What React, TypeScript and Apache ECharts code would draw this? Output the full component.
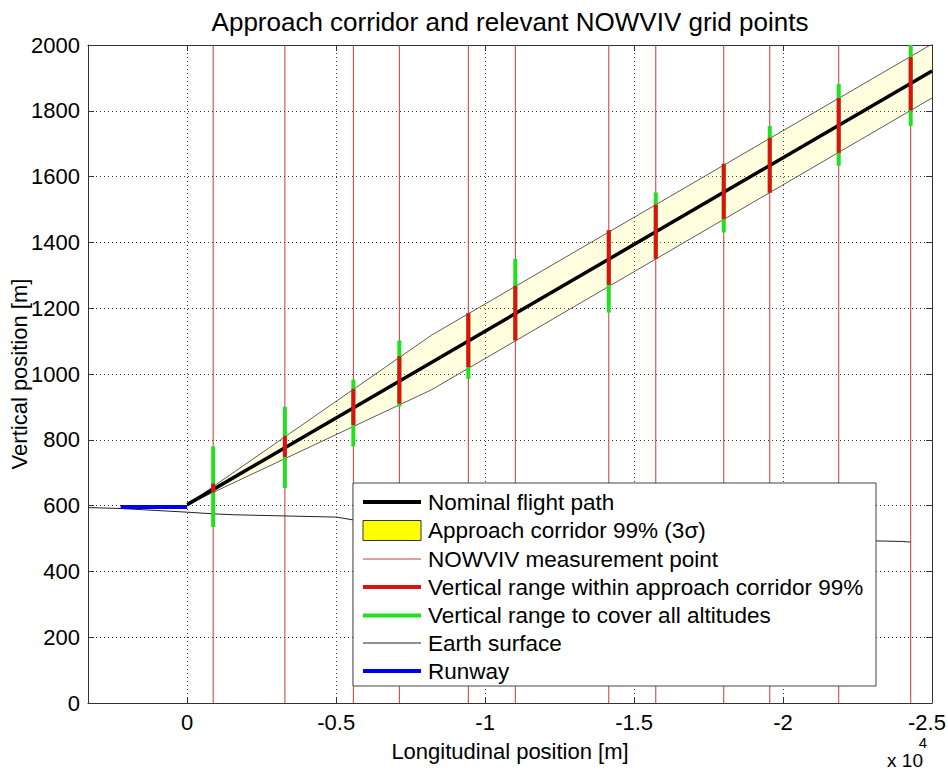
import React, { useEffect, useRef } from "react";
import * as echarts from "echarts";

// NOWVIV measurement points along the approach (longitudinal position, m)
const measurementX = [-872, -3279, -5577, -7121, -9436, -11013, -14151, -15728, -18010, -19554, -21869, -24285];
// Vertical range inside the 99 % approach corridor at each measurement point (m)
const redLow = [640, 748, 845, 910, 1021, 1102, 1271, 1350, 1471, 1551, 1672, 1801];
const redHigh = [667, 812, 955, 1054, 1185, 1268, 1437, 1515, 1639, 1718, 1839, 1963];
// Vertical range needed to cover all altitudes (m)
const greenLow = [535, 653, 780, 901, 985, 1102, 1187, 1350, 1430, 1551, 1633, 1754];
const greenHigh = [780, 900, 983, 1102, 1185, 1350, 1437, 1552, 1639, 1754, 1882, 2000];

// Nominal 3 degree flight path
const nominalX = [0, -25000];
const nominalZ = [603, 1921];

// Approach corridor 99 % (3 sigma) bounds
const corridorX = [0, -8200, -25000];
const corridorUpper = [603, 1118, 2003];
const corridorLower = [603, 952, 1839];

// Terrain profile
const earthX = [3330, 2200, 0, -872, -1600, -5020, -5530, -22950, -24000, -24285];
const earthZ = [594, 591, 580, 575, 572, 565, 557, 493, 491, 489];

// Runway
const runwayX = [2235, 0];
const runwayZ = [596, 596];

const legendLabels = [
  "Nominal flight path",
  "Approach corridor 99% (3\u03c3)",
  "NOWVIV measurement point",
  "Vertical range within approach corridor 99%",
  "Vertical range to cover all altitudes",
  "Earth surface",
  "Runway",
];

const FONT = "'Liberation Sans', Arial, Helvetica, sans-serif";
const C_RED = "#e01010";
const C_GREEN = "#20e020";
const C_MEAS = "#c03c3c";
const C_BLUE = "#0000ee";

const zip = (xs: number[], ys: number[]) => xs.map((x, i) => [x, ys[i]]);

const X_MIN = -25000;
const xLabel = (v: number) => {
  if (Math.abs(v % 5000) > 1e-6) return "";
  if (v === 0) return "0";
  const s = String(v / 10000);
  // the last label sits on the right border; nudge it inwards a little
  return v === X_MIN ? `{edge|${s}}` : s;
};

function rangeBars(low: number[], high: number[], color: string, z: number) {
  return {
    type: "custom",
    z,
    clip: true,
    data: measurementX.map((x, i) => [x, low[i], high[i]]),
    encode: { x: 0, y: [1, 2] },
    renderItem: (_p: any, api: any) => {
      const a = api.coord([api.value(0), api.value(1)]);
      const b = api.coord([api.value(0), api.value(2)]);
      return {
        type: "line",
        shape: { x1: a[0], y1: a[1], x2: b[0], y2: b[1] },
        style: { stroke: color, lineWidth: 4, lineCap: "butt" },
      };
    },
  };
}

function buildLegend() {
  const left = 353;
  const top = 483;
  const rowY = [502, 530.5, 559, 587, 615.5, 643, 671];
  const x1 = 363;
  const x2 = 421;
  const Z = 100;
  const children: any[] = [
    {
      type: "rect",
      z: Z,
      shape: { x: left, y: top, width: 523, height: 203 },
      style: { fill: "#fff", stroke: "#444", lineWidth: 1 },
    },
  ];
  const sampleLine = (y: number, color: string, w: number) => ({
    type: "line",
    z: Z + 1,
    shape: { x1, y1: y, x2, y2: y },
    style: { stroke: color, lineWidth: w },
  });
  children.push(sampleLine(rowY[0], "#000", 4));
  children.push({
    type: "rect",
    z: Z + 1,
    shape: { x: x1, y: rowY[1] - 10, width: x2 - x1, height: 20 },
    style: { fill: "#ffff00", stroke: "#333", lineWidth: 1 },
  });
  children.push(sampleLine(rowY[2], C_MEAS, 1));
  children.push(sampleLine(rowY[3], C_RED, 4));
  children.push(sampleLine(rowY[4], C_GREEN, 4));
  children.push(sampleLine(rowY[5], "#222", 1));
  children.push(sampleLine(rowY[6], C_BLUE, 4));
  legendLabels.forEach((t, i) => {
    children.push({
      type: "text",
      z: Z + 1,
      x: 428,
      y: rowY[i],
      style: {
        text: t,
        fontSize: 22.5,
        fontFamily: FONT,
        fill: "#000",
        textAlign: "left",
        textVerticalAlign: "middle",
      },
    });
  });
  return { type: "group", children };
}

const axisLineStyle = { color: "#333", width: 1 };
const gridLineStyle = { color: "#333", width: 1, type: [1, 3] as any };

const option: any = {
  animation: false,
  backgroundColor: "#fff",
  grid: { left: 88, right: 16, top: 45, bottom: 68, containLabel: false, outerBoundsMode: "none" },
  xAxis: [
    {
      type: "value",
      min: X_MIN,
      max: 3330,
      interval: 5000,
      inverse: true,
      position: "bottom",
      axisLine: { show: true, onZero: false, lineStyle: axisLineStyle },
      axisTick: { show: true, inside: true, length: 6, lineStyle: axisLineStyle },
      axisLabel: {
        formatter: xLabel,
        fontSize: 22,
        fontFamily: FONT,
        color: "#000",
        margin: 8,
        rich: { edge: { fontSize: 22, fontFamily: FONT, color: "#000", padding: [0, 10, 0, 0] } },
      },
      splitLine: { show: true, lineStyle: gridLineStyle },
      name: "Longitudinal position [m]",
      nameLocation: "middle",
      nameGap: 37,
      nameMoveOverlap: false,
      nameTextStyle: { fontSize: 22, fontFamily: FONT, color: "#000" },
    },
    {
      type: "value",
      min: X_MIN,
      max: 3330,
      interval: 5000,
      inverse: true,
      position: "top",
      axisLine: { show: true, onZero: false, lineStyle: axisLineStyle },
      axisTick: { show: true, inside: true, length: 6, lineStyle: axisLineStyle },
      axisLabel: { show: false },
      splitLine: { show: false },
    },
  ],
  yAxis: [
    {
      type: "value",
      min: 0,
      max: 2000,
      interval: 200,
      position: "left",
      axisLine: { show: true, onZero: false, lineStyle: axisLineStyle },
      axisTick: { show: true, inside: true, length: 6, lineStyle: axisLineStyle },
      axisLabel: { formatter: (v: number) => String(v), fontSize: 22, fontFamily: FONT, color: "#000", margin: 8 },
      splitLine: { show: true, lineStyle: gridLineStyle },
      name: "Vertical position [m]",
      nameLocation: "middle",
      nameGap: 58,
      nameRotate: 90,
      nameMoveOverlap: false,
      nameTextStyle: { fontSize: 22, fontFamily: FONT, color: "#000" },
    },
    {
      type: "value",
      min: 0,
      max: 2000,
      interval: 200,
      position: "right",
      axisLine: { show: true, onZero: false, lineStyle: axisLineStyle },
      axisTick: { show: true, inside: true, length: 6, lineStyle: axisLineStyle },
      axisLabel: { show: false },
      splitLine: { show: false },
    },
  ],
  graphic: [
    {
      type: "text",
      x: 510,
      y: 22,
      style: {
        text: "Approach corridor and relevant NOWVIV grid points",
        fontSize: 26,
        fontFamily: FONT,
        fill: "#000",
        textAlign: "center",
        textVerticalAlign: "middle",
      },
    },
    {
      type: "text",
      x: 905,
      y: 760,
      style: { text: "x 10", fontSize: 19, fontFamily: FONT, fill: "#000", textAlign: "center", textVerticalAlign: "middle" },
    },
    {
      type: "text",
      x: 923,
      y: 742,
      style: { text: "4", fontSize: 15, fontFamily: FONT, fill: "#000", textAlign: "center", textVerticalAlign: "middle" },
    },
    buildLegend(),
  ],
  series: [
    {
      // corridor fill between the two bounds
      type: "custom",
      z: 1,
      clip: true,
      data: [[corridorX[0], corridorUpper[0]]],
      encode: { x: 0, y: 1 },
      renderItem: (_p: any, api: any) => {
        const pts: number[][] = [];
        corridorX.forEach((x, i) => pts.push(api.coord([x, corridorUpper[i]])));
        for (let i = corridorX.length - 1; i >= 0; i--) pts.push(api.coord([corridorX[i], corridorLower[i]]));
        return { type: "polygon", shape: { points: pts }, style: { fill: "rgba(255,245,0,0.13)" } };
      },
    },
    {
      // NOWVIV measurement verticals
      type: "custom",
      z: 2,
      clip: true,
      data: measurementX.map((x) => [x, 0, 2000]),
      encode: { x: 0, y: [1, 2] },
      renderItem: (_p: any, api: any) => {
        const a = api.coord([api.value(0), 0]);
        const b = api.coord([api.value(0), 2000]);
        return {
          type: "line",
          shape: { x1: a[0], y1: a[1], x2: b[0], y2: b[1] },
          style: { stroke: C_MEAS, lineWidth: 1 },
        };
      },
    },
    {
      type: "line",
      z: 3,
      data: zip(corridorX, corridorUpper),
      symbol: "none",
      lineStyle: { color: "#333", width: 0.8 },
    },
    {
      type: "line",
      z: 3,
      data: zip(corridorX, corridorLower),
      symbol: "none",
      lineStyle: { color: "#333", width: 0.8 },
    },
    {
      type: "line",
      z: 3,
      data: zip(earthX, earthZ),
      symbol: "none",
      lineStyle: { color: "#222", width: 1 },
    },
    rangeBars(greenLow, greenHigh, C_GREEN, 4),
    {
      type: "line",
      z: 5,
      data: zip(nominalX, nominalZ),
      symbol: "none",
      lineStyle: { color: "#000", width: 3.5 },
    },
    rangeBars(redLow, redHigh, C_RED, 6),
    {
      type: "line",
      z: 7,
      data: zip(runwayX, runwayZ),
      symbol: "none",
      lineStyle: { color: C_BLUE, width: 4 },
    },
  ],
};

export default function App() {
  const ref = useRef<HTMLDivElement>(null);
  useEffect(() => {
    document.body.style.margin = "0";
    const chart = echarts.init(ref.current as HTMLDivElement, undefined, { renderer: "svg" });
    chart.setOption(option);
    return () => chart.dispose();
  }, []);
  return <div ref={ref} style={{ width: 948, height: 771, overflow: "hidden" }} />;
}
